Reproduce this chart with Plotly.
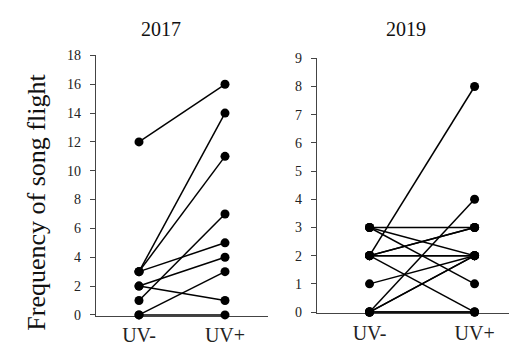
import plotly.graph_objects as go

categories = ["UV-", "UV+"]

# 2017 paired observations (UV-, UV+)
uv_minus_2017 = [12, 3, 3, 3, 2, 2, 1, 0, 0]
uv_plus_2017 = [16, 14, 11, 5, 4, 1, 7, 3, 0]

# 2019 paired observations (UV-, UV+)
uv_minus_2019 = [2, 0, 3, 3, 3, 2, 2, 2, 2, 2, 1, 0, 0, 0, 0]
uv_plus_2019 = [8, 4, 3, 2, 1, 3, 3, 2, 2, 0, 2, 2, 2, 0, 0]

yticks_2017 = [0, 2, 4, 6, 8, 10, 12, 14, 16, 18]
yticks_2019 = [0, 1, 2, 3, 4, 5, 6, 7, 8, 9]

font_family = "Liberation Serif"

fig = go.Figure()

for a, b in zip(uv_minus_2017, uv_plus_2017):
    fig.add_trace(go.Scatter(
        x=[0, 1], y=[a, b], mode="lines+markers",
        line=dict(color="black", width=1.5),
        marker=dict(color="black", size=9),
        xaxis="x", yaxis="y", showlegend=False, cliponaxis=False))

for a, b in zip(uv_minus_2019, uv_plus_2019):
    fig.add_trace(go.Scatter(
        x=[0, 1], y=[a, b], mode="lines+markers",
        line=dict(color="black", width=1.5),
        marker=dict(color="black", size=9),
        xaxis="x2", yaxis="y2", showlegend=False, cliponaxis=False))

axis_common = dict(showgrid=False, zeroline=False, showline=True,
                   linecolor="#444", linewidth=1.2, layer="below traces",
                   ticklabelstandoff=6,
                   tickfont=dict(family=font_family, size=14, color="#222"))

xaxis_common = dict(tickvals=[0, 1], ticktext=categories, ticks="",
                    tickfont=dict(family=font_family, size=20, color="#222"),
                    ticklabelstandoff=1,
                    showgrid=False, zeroline=False, showline=True,
                    linecolor="#444", linewidth=1.2, layer="below traces")

fig.update_layout(
    width=517, height=349,
    margin=dict(l=0, r=0, t=0, b=0),
    paper_bgcolor="white", plot_bgcolor="white",
    font=dict(family=font_family, color="black"),
    xaxis=dict(domain=[88/517, 260/517], range=[-0.5, 1.5], anchor="y",
               **xaxis_common),
    yaxis=dict(domain=[36/349, 307/349], range=[-0.1, 18],
               tickvals=yticks_2017, ticks="outside", ticklen=5,
               tickcolor="#444", anchor="x", **axis_common),
    xaxis2=dict(domain=[309/517, 1.0], range=[-0.5, 1.48], anchor="y2",
                **xaxis_common),
    yaxis2=dict(domain=[39/349, 304/349], range=[-0.05, 9],
                tickvals=yticks_2019, ticks="outside", ticklen=5,
                tickcolor="#444", anchor="x2", **axis_common),
    annotations=[
        dict(text="2017", x=153/517, y=1 - 15/349, xref="paper", yref="paper",
             showarrow=False, font=dict(family=font_family, size=20, color="#111"),
             xanchor="center", yanchor="middle"),
        dict(text="2019", x=398/517, y=1 - 15/349, xref="paper", yref="paper",
             showarrow=False, font=dict(family=font_family, size=20, color="#111"),
             xanchor="center", yanchor="middle"),
        dict(text="Frequency of song flight", x=29/517, y=1 - 195/349,
             xref="paper", yref="paper", showarrow=False, textangle=-90,
             font=dict(family=font_family, size=26, color="#111"),
             xanchor="center", yanchor="middle"),
    ],
)

fig.write_html("out.html")
